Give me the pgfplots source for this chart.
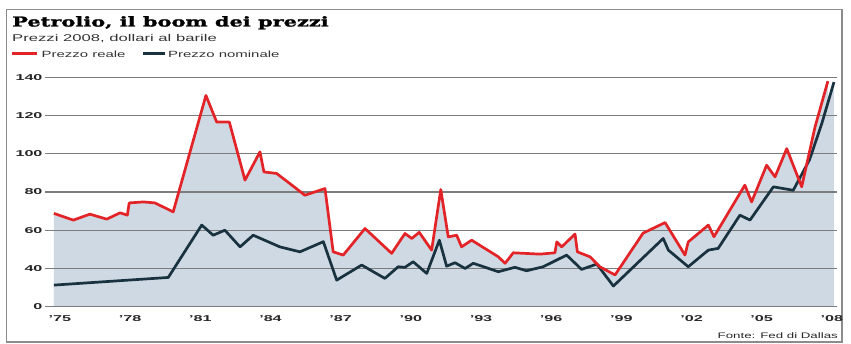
\documentclass[border=0pt]{standalone}
\usepackage{pgfplots}
\pgfplotsset{compat=1.18}
\usepackage{fontspec}
\setmainfont{Liberation Sans}
\newfontfamily\titlefont{DejaVu Serif Bold}[FakeStretch=1.55,FakeBold=1.6]
\newfontfamily\subfont[FakeStretch=1.7]{Liberation Sans}
\newfontfamily\widefont[FakeStretch=1.66]{Liberation Sans}
\newfontfamily\tickfont[FakeStretch=1.9]{Liberation Sans}
\definecolor{realred}{RGB}{226,36,40}
\definecolor{nomdark}{RGB}{24,50,64}
\definecolor{areafill}{RGB}{207,217,228}
\definecolor{gridgray}{RGB}{125,125,125}
\definecolor{framegray}{RGB}{140,140,140}

\pgfplotstableread{
x y
1974.74 68.8
1975.57 65.3
1976.28 68.4
1977.00 65.8
1977.57 69.1
1977.88 67.9
1977.96 74.3
1978.56 74.8
1979.06 74.3
1979.84 69.6
1981.24 130.5
1981.70 116.6
1982.24 116.6
1982.91 86.2
1983.55 101.0
1983.72 90.5
1984.26 89.7
1984.83 84.4
1985.47 78.3
1986.33 81.8
1986.68 48.7
1987.11 47.0
1988.04 60.9
1989.18 47.9
1989.75 58.3
1990.04 55.7
1990.36 58.9
1990.89 49.6
1991.28 81.3
1991.60 56.5
1991.96 57.4
1992.17 51.3
1992.60 54.8
1993.74 46.1
1994.03 42.7
1994.38 48.2
1995.52 47.5
1996.16 48.2
1996.24 53.9
1996.45 51.3
1997.02 58.0
1997.12 48.7
1997.66 46.1
1998.08 40.9
1998.73 36.6
1999.93 58.5
2000.87 64.0
2001.72 47.0
2001.86 53.9
2002.72 62.7
2002.96 56.6
2004.28 83.6
2004.57 74.8
2005.21 94.0
2005.57 87.9
2006.07 102.7
2006.71 82.7
2007.28 114.0
2007.83 138.0
}\reale

\pgfplotstableread{
x y
1974.74 31.3
1979.63 35.3
1981.06 62.7
1981.55 57.4
1982.05 60.0
1982.70 51.3
1983.26 57.4
1984.40 51.3
1985.26 48.7
1986.26 54.0
1986.83 33.9
1987.90 41.8
1988.89 34.8
1989.46 40.9
1989.75 40.6
1990.10 43.5
1990.68 37.4
1991.22 54.8
1991.53 41.2
1991.89 43.0
1992.32 40.0
1992.67 42.7
1993.74 38.3
1994.45 40.6
1994.95 38.8
1995.66 40.9
1996.66 47.0
1997.30 39.5
1997.95 42.3
1998.66 30.8
2000.79 55.7
2001.01 49.6
2001.86 40.9
2002.72 49.6
2003.14 50.5
2004.07 67.9
2004.50 65.3
2005.50 82.7
2006.35 80.9
2007.05 97.0
2007.57 115.8
2008.09 137.5
}\nominale

\begin{document}
\begin{tikzpicture}
\path (0pt,0pt) rectangle (851pt,343pt);
\draw[framegray, line width=1.2pt] (6.5pt,1pt) rectangle (842pt,333.7pt);

\begin{axis}[
  at={(45pt,36.3pt)}, anchor=south west,
  scale only axis, width=792pt, height=229.4pt,
  xmin=1974.36, xmax=2008.22, ymin=20, ymax=140,
  axis line style={draw=none},
  major tick length=0pt,
  ytick={20,40,60,80,100,120,140},
  yticklabels={0,40,60,80,100,120,140},
  xtick={1975,1978,1981,1984,1987,1990,1993,1996,1999,2002,2005,2008},
  xticklabels={’75,’78,’81,’84,’87,’90,’93,’96,’99,’02,’05,’08},
  tick label style={font=\tickfont\bfseries\fontsize{8.5}{9}\selectfont, text=black!85},
  xticklabel style={yshift=-5pt},
  yticklabel style={xshift=1pt},
]
\addplot[fill=areafill, draw=none] table[x=x,y=y]{\reale} \closedcycle;
\addplot[fill=areafill, draw=none] table[x=x,y=y]{\nominale} \closedcycle;
\pgfplotsinvokeforeach{20,40,60,80,100,120,140}{
  \draw[gridgray, line width=1.3pt] (axis cs:1974.36,#1) -- (axis cs:2008.22,#1);
}
\addplot[nomdark, line width=2.7pt, line join=round] table[x=x,y=y]{\nominale};
\addplot[realred, line width=2.7pt, line join=round] table[x=x,y=y]{\reale};
\end{axis}

\node[anchor=base west, inner sep=0pt] at (12pt,316.5pt) {\titlefont\fontsize{13.5}{14}\selectfont Petrolio, il boom dei prezzi};
\node[anchor=base west, inner sep=0pt, text=black!80] at (12pt,301.5pt) {\subfont\fontsize{9.8}{10}\selectfont Prezzi 2008, dollari al barile};
\draw[realred, line width=2.5pt] (12pt,289.7pt) -- (36.5pt,289.7pt);
\node[anchor=base west, inner sep=0pt, text=black!80] at (41.5pt,285.7pt) {\widefont\fontsize{9}{10}\selectfont Prezzo reale};
\draw[nomdark, line width=2.5pt] (143pt,289.7pt) -- (165pt,289.7pt);
\node[anchor=base west, inner sep=0pt, text=black!80] at (168pt,285.7pt) {\widefont\fontsize{9}{10}\selectfont Prezzo nominale};
\node[anchor=base east, inner sep=0pt, text=black!85] at (838pt,5pt) {\widefont\fontsize{8}{9}\selectfont Fonte: Fed di Dallas};
\end{tikzpicture}
\end{document}
